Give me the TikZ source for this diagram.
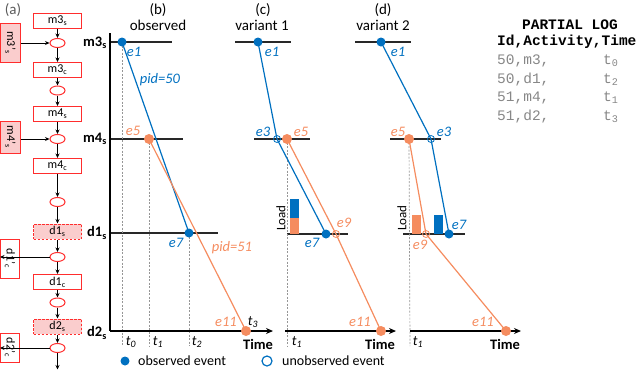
\documentclass[tikz,border=0pt]{standalone}
\usepackage{fontspec}
\setmainfont{Carlito}
\newfontfamily\logfont{Liberation Mono}
\usetikzlibrary{arrows.meta,shapes.geometric}
\definecolor{evblue}{RGB}{0,112,192}
\definecolor{evorange}{RGB}{245,140,95}
\definecolor{boxred}{RGB}{255,45,45}
\definecolor{boxfill}{RGB}{250,205,205}
\definecolor{loggray}{RGB}{135,135,135}
\definecolor{dashgray}{RGB}{150,150,150}
\definecolor{levelgray}{RGB}{40,40,40}
\definecolor{headgray}{RGB}{90,90,90}
\pgfdeclarelayer{bg}
\pgfsetlayers{bg,main}
\tikzset{
  actbox/.style={draw=boxred, line width=1pt, minimum width=48pt, minimum height=15pt, inner sep=0pt, font=\fontsize{12}{12}\selectfont},
  dashbox/.style={actbox, dash pattern=on 2.5pt off 1.5pt, fill=boxfill},
  sidebox/.style={draw=boxred, line width=1pt, inner sep=0pt, rotate=-90, font=\fontsize{12}{12}\selectfont},
  sidefill/.style={sidebox, fill=boxfill},
  place/.style={ellipse, draw=boxred, line width=1pt, minimum width=15pt, minimum height=9pt, inner sep=0pt},
  flow/.style={-{Stealth[length=4.5pt,width=4pt]}, line width=0.9pt},
  levellbl/.style={font=\fontsize{14.5}{14.5}\selectfont\bfseries, anchor=east, inner sep=0pt},
  levelline/.style={draw=levelgray, line width=1.1pt},
  yaxis/.style={line width=2pt},
  timeaxis/.style={line width=2pt, -{Stealth[length=7pt,width=6pt]}},
  guide/.style={draw=dashgray, line width=0.7pt, dash pattern=on 2pt off 1.5pt},
  obsb/.style={circle, fill=evblue, minimum size=9pt, inner sep=0pt},
  obso/.style={circle, fill=evorange, minimum size=10pt, inner sep=0pt},
  unobsb/.style={circle, draw=evblue, line width=0.8pt, minimum size=7pt, inner sep=0pt},
  unobso/.style={circle, draw=evorange, line width=0.8pt, minimum size=7pt, inner sep=0pt},
  bluetrace/.style={draw=evblue, line width=1.2pt},
  orangetrace/.style={draw=evorange, line width=1.2pt},
  evlbl/.style={font=\fontsize{14.5}{14.5}\selectfont\itshape, inner sep=0pt},
  head/.style={font=\fontsize{15}{15}\selectfont, inner sep=0pt},
  tlbl/.style={font=\fontsize{14}{14}\selectfont\itshape, inner sep=0pt},
  timelbl/.style={font=\fontsize{14.5}{14.5}\selectfont\bfseries, inner sep=0pt},
  loadlbl/.style={font=\fontsize{13}{13}\selectfont, rotate=90, inner sep=0pt},
  legend/.style={font=\fontsize{14}{14}\selectfont, anchor=west, inner sep=0pt},
  logtxt/.style={font=\fontsize{14.5}{14.5}\selectfont\logfont, anchor=west, inner sep=0pt, text=loggray},
  loghead/.style={font=\fontsize{14.5}{14.5}\selectfont\logfont\bfseries, inner sep=0pt},
}
\begin{document}
\begin{tikzpicture}[x=1pt,y=-1pt]
\useasboundingbox (0,0) rectangle (640,370);
% ---------------- panel (a)
\node[head, text=headgray] (lblA) at (13,10) {(a)};
\node[actbox] (m3s) at (57.5,20.5) {m3\textsubscript{s}};
\node[place] (p1) at (57.5,43) {};
\node[sidefill, minimum width=39pt, minimum height=20pt] (m3sp) at (10.5,42.5) {m3'\textsubscript{s}};
\node[actbox] (m3c) at (57.5,70) {m3\textsubscript{c}};
\node[place] (p2) at (57.5,90.5) {};
\node[actbox] (m4s) at (57.5,114) {m4\textsubscript{s}};
\node[place] (p3) at (57.5,139) {};
\node[sidefill, minimum width=32pt, minimum height=20pt] (m4sp) at (10.5,137) {m4'\textsubscript{s}};
\node[actbox] (m4c) at (57.5,166) {m4\textsubscript{c}};
\node[place] (p4) at (57.5,202) {};
\node[dashbox] (d1s) at (57.5,231.5) {d1\textsubscript{s}};
\node[place] (p5) at (57.5,257) {};
\node[sidebox, minimum width=39pt, minimum height=19pt] (d1cp) at (10,258.5) {d1'\textsubscript{c}};
\node[actbox] (d1c) at (57.5,282) {d1\textsubscript{c}};
\node[place] (p6) at (57.5,302.5) {};
\node[dashbox] (d2s) at (57.5,326.5) {d2\textsubscript{s}};
\node[place] (p7) at (57.5,348) {};
\node[sidebox, minimum width=29pt, minimum height=19pt] (d2cp) at (10,347.5) {d2'\textsubscript{c}};
\coordinate (aend) at (57.5,369.5);
\draw[flow] (m3s) -- (p1);
\draw[flow] (m3sp.north |- p1) -- (p1);
\draw[flow] (p1) -- (m3c);
\draw[flow] (m3c) -- (p2);
\draw[flow] (p2) -- (m4s);
\draw[flow] (m4s) -- (p3);
\draw[flow] (m4sp.north |- p3) -- (p3);
\draw[flow] (p3) -- (m4c);
\draw[flow] (m4c) -- (p4);
\draw[flow] (p4) -- (d1s);
\draw[flow] (d1s) -- (p5);
\draw[flow] (p5) -- (d1cp.south |- p5);
\draw[flow] (p5) -- (d1c);
\draw[flow] (d1c) -- (p6);
\draw[flow] (p6) -- (d2s);
\draw[flow] (d2s) -- (p7);
\draw[flow] (p7) -- (d2cp.south |- p7);
\draw[flow] (p7) -- (aend);
% ---------------- panel (b)
\node[head] (lblB) at (158,10) {(b)};
\node[head] (ttlB) at (158,25) {observed};
\node[levellbl] (lv3) at (107,43) {m3\textsubscript{s}};
\node[levellbl] (lv4) at (107,139) {m4\textsubscript{s}};
\node[levellbl] (lv1) at (107,233) {d1\textsubscript{s}};
\node[levellbl] (lv2) at (107,333) {d2\textsubscript{s}};
\node[obsb] (b1) at (122,42) {};
\node[obso] (b5) at (149,139) {};
\node[obsb] (b7) at (189,233) {};
\node[obso] (b11) at (246,331) {};
\coordinate (bTop) at (110,33);
\coordinate (bOrig) at (110,331);
\coordinate (bEnd) at (273,331);
\begin{pgfonlayer}{bg}
\draw[levelline] (110,42) -- (172,42);
\draw[levelline] (110,139) -- (183,139);
\draw[levelline] (110,233) -- (218,233);
\draw[guide] (b1.center) -- (122,346);
\draw[guide] (b5.center) -- (149,346);
\draw[guide] (b7.center) -- (189,346);
\draw[bluetrace] (b1.center) -- (b7.center);
\draw[orangetrace] (b5.center) -- (b11.center);
\draw[yaxis] (bTop) -- (bOrig);
\draw[timeaxis] (bOrig) -- (bEnd);
\end{pgfonlayer}
\node[evlbl, text=evblue] at (134,52) {e1};
\node[evlbl, text=evblue] at (160,80) {pid=50};
\node[evlbl, text=evorange] at (133,131) {e5};
\node[evlbl, text=evblue] at (176,243) {e7};
\node[evlbl, text=evorange] at (232,248) {pid=51};
\node[evlbl, text=evorange] at (226,322) {e11};
\node[tlbl] at (253,322) {t\textsubscript{3}};
\node[tlbl] at (131,342) {t\textsubscript{0}};
\node[tlbl] at (158,342) {t\textsubscript{1}};
\node[tlbl] at (197,342) {t\textsubscript{2}};
\node[timelbl] at (258,344) {Time};
% ---------------- panel (c)
\node[head] (lblC) at (263,10) {(c)};
\node[head] (ttlC) at (262,25) {variant 1};
\node[obsb] (c1) at (258,42) {};
\node[unobsb] (c3) at (277,139) {};
\node[obso] (c5) at (287,139) {};
\node[obsb] (c7) at (326,234) {};
\node[unobso] (c9) at (336,234) {};
\node[obso] (c11) at (381,331) {};
\coordinate (cOrig) at (285,331);
\coordinate (cEnd) at (396,331);
\begin{pgfonlayer}{bg}
\draw[levelline] (235,42) -- (291,42);
\draw[levelline] (254,139) -- (310,139);
\draw[levelline] (287,234) -- (348,234);
\draw[guide] (c5.center) -- (287,346);
\fill[evorange] (290,218) rectangle (299,234);
\fill[evblue] (290,199) rectangle (299,218);
\draw[bluetrace] (c1.center) -- (c3.center) -- (c7.center);
\draw[orangetrace] (c5.center) -- (c9.center) -- (c11.center);
\draw[timeaxis] (cOrig) -- (cEnd);
\end{pgfonlayer}
\node[loadlbl] at (281,218) {Load};
\node[evlbl, text=evblue] at (272,52) {e1};
\node[evlbl, text=evblue] at (263,132) {e3};
\node[evlbl, text=evorange] at (301,132) {e5};
\node[evlbl, text=evorange] at (344,223) {e9};
\node[evlbl, text=evblue] at (312,243) {e7};
\node[evlbl, text=evorange] at (360,322) {e11};
\node[tlbl] at (297,342) {t\textsubscript{1}};
\node[timelbl] at (380,344) {Time};
% ---------------- panel (d)
\node[head] (lblD) at (383,10) {(d)};
\node[head] (ttlD) at (383,25) {variant 2};
\node[obsb] (d1) at (381,42) {};
\node[obso] (d5) at (409,139) {};
\node[unobsb] (d3) at (431,139) {};
\node[obsb] (d7) at (449,234) {};
\node[unobso] (d9) at (426,234) {};
\node[obso] (d11) at (506,331) {};
\coordinate (dOrig) at (410,331);
\coordinate (dEnd) at (521,331);
\begin{pgfonlayer}{bg}
\draw[levelline] (355,42) -- (411,42);
\draw[levelline] (390,139) -- (441,139);
\draw[levelline] (403,234) -- (465,234);
\draw[guide] (d5.center) -- (410,346);
\fill[evorange] (412,215) rectangle (421,234);
\fill[evblue] (434,215) rectangle (443,234);
\draw[bluetrace] (d1.center) -- (d3.center) -- (d7.center);
\draw[orangetrace] (d5.center) -- (d9.center) -- (d11.center);
\draw[timeaxis] (dOrig) -- (dEnd);
\end{pgfonlayer}
\node[loadlbl] at (402,218) {Load};
\node[evlbl, text=evblue] at (398,52) {e1};
\node[evlbl, text=evorange] at (398,132) {e5};
\node[evlbl, text=evblue] at (444,132) {e3};
\node[evlbl, text=evblue] at (459,225) {e7};
\node[evlbl, text=evorange] at (420,245) {e9};
\node[evlbl, text=evorange] at (483,322) {e11};
\node[tlbl] at (418,342) {t\textsubscript{1}};
\node[timelbl] at (505,344) {Time};
% ---------------- legend
\node[obsb] (lg1) at (125,361) {};
\node[legend] (lgt1) at (138,360.5) {observed event};
\node[unobsb, minimum size=10pt, line width=1.2pt] (lg2) at (267,361) {};
\node[legend] (lgt2) at (282,360.5) {unobserved event};
% ---------------- partial log
\node[loghead] (lh1) at (570,25) {PARTIAL LOG};
\node[loghead, anchor=west] (lh2) at (497,42) {Id,Activity,Time};
\node[logtxt] (r1) at (497,61) {50,m3,};
\node[logtxt] (r1t) at (603,61) {t\textsubscript{0}};
\node[logtxt] (r2) at (497,79.5) {50,d1,};
\node[logtxt] (r2t) at (603,79.5) {t\textsubscript{2}};
\node[logtxt] (r3) at (497,98) {51,m4,};
\node[logtxt] (r3t) at (603,98) {t\textsubscript{1}};
\node[logtxt] (r4) at (497,116.5) {51,d2,};
\node[logtxt] (r4t) at (603,116.5) {t\textsubscript{3}};
\end{tikzpicture}
\end{document}
